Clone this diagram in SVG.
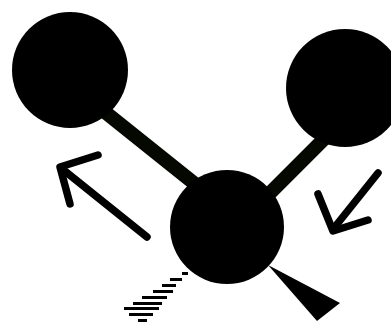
<svg xmlns="http://www.w3.org/2000/svg" width="391" height="322" viewBox="0 0 391 322">
<style>
.atom{fill:#000000}
.bond{stroke:#050800;stroke-width:14;stroke-linecap:butt;fill:none}
.arrow{stroke:#000000;stroke-width:7.5;stroke-linecap:round;stroke-linejoin:round;fill:none}
.hash{fill:#000000}
</style>
<rect width="391" height="322" fill="#ffffff"/>
<g id="connectors">
<line class="bond" x1="100" y1="108" x2="200" y2="188"/>
<line class="bond" x1="326" y1="137" x2="263" y2="200"/>
<polygon id="wedge" fill="#000000" points="268,265 340,303 317,321"/>
<g id="hashed-wedge" class="hash">
<rect x="182" y="272" width="6" height="3"/>
<rect x="170" y="278" width="12" height="3"/>
<rect x="162" y="284" width="14" height="3"/>
<rect x="153" y="290" width="20" height="3"/>
<rect x="142" y="296" width="25" height="3"/>
<rect x="133" y="302" width="29" height="3"/>
<rect x="124" y="307" width="35" height="3"/>
<rect x="129" y="313" width="24" height="3"/>
<rect x="138" y="319" width="9" height="3"/>
</g>
<g id="arrow-left">
<polyline class="arrow" points="147,237 61,168"/>
<polyline class="arrow" points="98,155 60,167 70,204"/>
</g>
<g id="arrow-right">
<polyline class="arrow" points="378,173 334,228"/>
<polyline class="arrow" points="318,194 333,231 368,220"/>
</g>
</g>
<g id="atom-left"><circle class="atom" cx="70" cy="70" r="58"/></g>
<g id="atom-right"><circle class="atom" cx="345" cy="88" r="59"/></g>
<g id="atom-center"><circle class="atom" cx="227" cy="227" r="57"/></g>
</svg>
